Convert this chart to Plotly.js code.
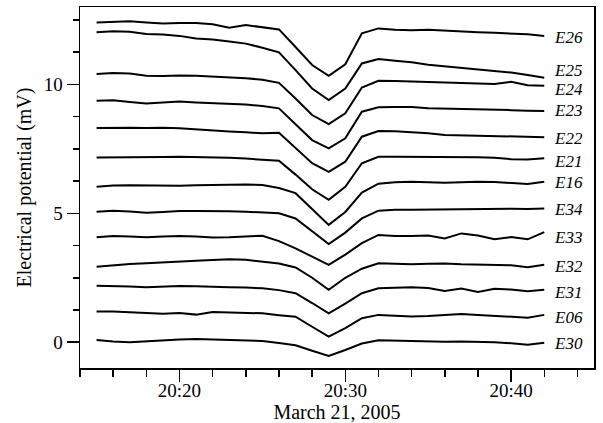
<!DOCTYPE html>
<html>
<head>
<meta charset="utf-8">
<script src="https://cdn.plot.ly/plotly-3.0.1.min.js"></script>
<style>html,body{margin:0;padding:0;background:#fff;}#chart{width:603px;height:423px;}</style>
</head>
<body>
<div id="chart"></div>
<script>
const day = "2005-03-21";
const times = ["20:15","20:16","20:17","20:18","20:19","20:20","20:21","20:22","20:23","20:24",
               "20:25","20:26","20:27","20:28","20:29","20:30","20:31","20:32","20:33","20:34",
               "20:35","20:36","20:37","20:38","20:39","20:40","20:41","20:42"];

const seriesNames = ["E26","E25","E24","E23","E22","E21","E16","E34","E33","E32","E31","E06","E30"];

const E26 = [12.40,12.43,12.45,12.40,12.36,12.38,12.38,12.33,12.20,12.30,12.22,12.13,11.45,10.75,10.33,10.78,11.98,12.17,12.12,12.10,12.12,12.08,12.04,12.02,12.00,11.98,11.94,11.88];
const E25 = [12.02,12.06,12.04,11.95,11.93,11.88,11.78,11.74,11.66,11.58,11.42,11.24,10.55,9.84,9.39,9.84,10.81,10.98,10.92,10.86,10.76,10.70,10.65,10.58,10.53,10.46,10.36,10.26];
const E24 = [10.40,10.44,10.42,10.33,10.32,10.34,10.33,10.30,10.28,10.24,10.18,10.06,9.45,8.81,8.46,8.88,9.88,10.14,10.13,10.11,10.10,10.07,10.04,10.02,10.01,10.10,9.97,9.95];
const E23 = [9.36,9.38,9.32,9.26,9.30,9.34,9.30,9.27,9.25,9.22,9.16,9.07,8.45,7.84,7.52,7.91,8.94,9.11,9.12,9.12,9.07,9.06,9.05,9.03,9.01,9.00,8.98,8.97];
const E22 = [8.31,8.32,8.32,8.31,8.32,8.30,8.25,8.22,8.17,8.14,8.10,8.12,7.53,6.94,6.61,7.00,7.97,8.19,8.18,8.15,8.10,8.04,8.02,8.00,7.98,7.97,7.96,7.95];
const E21 = [7.16,7.16,7.17,7.17,7.18,7.19,7.18,7.17,7.15,7.12,7.08,7.04,6.50,5.93,5.52,6.03,6.94,7.19,7.19,7.19,7.18,7.17,7.17,7.17,7.15,7.10,7.09,7.13];
const E16 = [6.03,6.08,6.09,6.08,6.07,6.07,6.09,6.10,6.13,6.12,6.10,5.98,5.78,5.15,4.55,5.05,5.80,6.15,6.20,6.22,6.20,6.18,6.20,6.22,6.21,6.18,6.14,6.22];
const E34 = [5.06,5.10,5.07,5.02,5.05,5.09,5.09,5.09,5.08,5.06,5.04,5.00,4.80,4.30,3.81,4.25,4.80,5.10,5.14,5.14,5.15,5.15,5.15,5.17,5.18,5.18,5.17,5.19];
const E33 = [4.07,4.12,4.10,4.07,4.10,4.12,4.10,4.06,4.07,4.10,4.13,3.92,3.64,3.32,3.00,3.40,3.84,4.16,4.12,4.12,4.14,4.02,4.22,4.14,3.99,4.08,3.99,4.27];
const E32 = [2.93,2.99,3.03,3.06,3.10,3.13,3.16,3.19,3.22,3.20,3.12,3.05,2.90,2.50,2.03,2.50,2.85,3.06,3.04,3.02,3.04,3.05,3.02,3.00,3.00,2.98,2.91,3.00];
const E31 = [2.19,2.18,2.16,2.13,2.15,2.18,2.17,2.14,2.13,2.12,2.09,2.02,1.90,1.52,1.12,1.50,1.90,2.09,2.12,2.13,2.10,1.99,2.08,1.95,2.07,2.04,1.98,2.03];
const E06 = [1.19,1.19,1.16,1.12,1.10,1.13,1.07,1.17,1.16,1.13,1.12,1.05,0.99,0.60,0.22,0.55,0.93,1.06,1.02,1.00,1.02,1.05,1.09,1.06,1.03,0.99,0.95,1.06];
const E30 = [0.09,0.03,0.00,0.04,0.08,0.11,0.12,0.10,0.07,0.06,0.05,-0.03,-0.12,-0.33,-0.53,-0.30,-0.05,0.08,0.06,0.04,0.02,0.02,0.03,0.02,0.00,-0.04,-0.10,-0.02];

const seriesValues = [E26,E25,E24,E23,E22,E21,E16,E34,E33,E32,E31,E06,E30];
const labelShift = {E26:-2, E25:7, E24:-4, E23:0, E22:-1, E21:-3, E16:-1, E34:-1, E33:-5, E32:-2, E31:-3, E06:-3, E30:-1};

const xs = times.map(t => day + " " + t + ":00");
const serif = "Liberation Serif";

const traces = seriesValues.map((vals, i) => ({
  type: "scatter", mode: "lines", x: xs, y: vals, name: seriesNames[i],
  line: {color: "#000", width: 2}, hoverinfo: "skip"
}));

const annotations = seriesValues.map((vals, i) => ({
  x: xs[xs.length - 1], y: vals[vals.length - 1], xref: "x", yref: "y",
  text: seriesNames[i], showarrow: false,
  xanchor: "left", yanchor: "middle", xshift: 8, yshift: labelShift[seriesNames[i]],
  font: {family: serif, size: 17, color: "#000", style: "italic"}
}));

const layout = {
  width: 603, height: 423,
  margin: {l: 80, r: 9, t: 7, b: 55},
  paper_bgcolor: "#fff", plot_bgcolor: "#fff",
  showlegend: false,
  font: {family: serif, color: "#000"},
  xaxis: {
    type: "date",
    range: [day + " 20:14:00", day + " 20:45:00"],
    dtick: 600000, tickformat: "%H:%M",
    ticks: "outside", ticklen: 12, tickwidth: 1.5, tickcolor: "#000",
    minor: {dtick: 120000, ticks: "outside", ticklen: 7, tickwidth: 1.5, tickcolor: "#000"},
    showline: true, mirror: true, linecolor: "#000", linewidth: 1.5,
    showgrid: false, zeroline: false,
    ticklabelstandoff: -7,
    tickfont: {family: serif, size: 19, color: "#000"},
    title: {text: "March 21, 2005", font: {family: serif, size: 20, color: "#000"}, standoff: 2}
  },
  yaxis: {
    range: [-1, 13],
    tickvals: [0, 5, 10], ticktext: ["0", "5", "10"],
    ticks: "outside", ticklen: 12, tickwidth: 1.5, tickcolor: "#000",
    minor: {tick0: 0, dtick: 1.25, ticks: "outside", ticklen: 6, tickwidth: 1.5, tickcolor: "#000"},
    showline: true, mirror: true, linecolor: "#000", linewidth: 1.5,
    showgrid: false, zeroline: false,
    tickfont: {family: serif, size: 19, color: "#000"},
    title: {text: "Electrical potential (mV)", font: {family: serif, size: 20, color: "#000"}, standoff: 6}
  },
  annotations: annotations
};

Plotly.newPlot("chart", traces, layout, {staticPlot: true, displayModeBar: false});
</script>
</body>
</html>
